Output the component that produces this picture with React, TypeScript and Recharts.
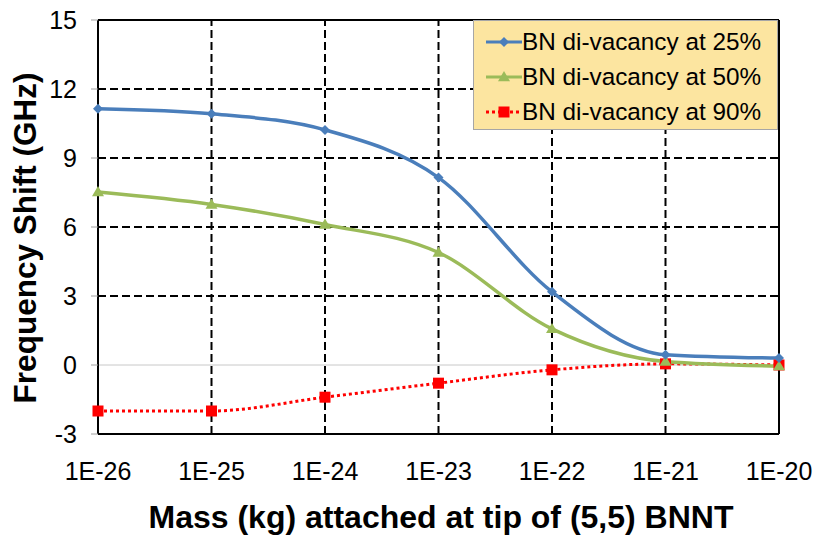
import React from "react";
import { LineChart, Line, XAxis, YAxis, ReferenceLine, Legend } from "recharts";

const masses = ["1E-26", "1E-25", "1E-24", "1E-23", "1E-22", "1E-21", "1E-20"];
const vac25 = [11.14, 10.92, 10.22, 8.15, 3.18, 0.45, 0.3];
const vac50 = [7.52, 6.98, 6.11, 4.89, 1.57, 0.15, -0.05];
const vac90 = [-2.0, -2.0, -1.4, -0.79, -0.21, 0.05, 0.0];
const yTicks = [-3, 0, 3, 6, 9, 12, 15];
const dashedY = [3, 6, 9, 12];

const seriesNames = ["BN di-vacancy at 25%", "BN di-vacancy at 50%", "BN di-vacancy at 90%"];
const BLUE = "#4A7EBB";
const GREEN = "#9BBB59";
const RED = "#FF0000";
const FONT = "'Liberation Sans', Arial, sans-serif";

const data = masses.map((m, i) => ({ mass: m, a: vac25[i], b: vac50[i], c: vac90[i] }));

const Diamond = (props: any) => {
  const { cx, cy, fill } = props;
  if (cx == null || cy == null) return null;
  const r = 5;
  return <path d={`M${cx},${cy - r}L${cx + r},${cy}L${cx},${cy + r}L${cx - r},${cy}Z`} fill={fill} />;
};
const Triangle = (props: any) => {
  const { cx, cy, fill } = props;
  if (cx == null || cy == null) return null;
  const r = 6;
  return <path d={`M${cx},${cy - r}L${cx + r},${cy + r * 0.7}L${cx - r},${cy + r * 0.7}Z`} fill={fill} />;
};
const Square = (props: any) => {
  const { cx, cy, fill } = props;
  if (cx == null || cy == null) return null;
  const s = 11;
  return <rect x={cx - s / 2} y={cy - s / 2} width={s} height={s} fill={fill} />;
};

const LegendBox = () => {
  const rows = [
    { name: seriesNames[0], color: BLUE, dash: undefined, marker: "diamond" },
    { name: seriesNames[1], color: GREEN, dash: undefined, marker: "triangle" },
    { name: seriesNames[2], color: RED, dash: "3 3", marker: "square" },
  ];
  return (
    <div
      style={{
        width: 305,
        height: 110,
        boxSizing: "border-box",
        background: "#FCE5A0",
        border: "1px solid #A6A6A6",
        paddingTop: 3,
        fontFamily: FONT,
      }}
    >
      {rows.map((r) => (
        <div key={r.name} style={{ display: "flex", alignItems: "center", height: 35 }}>
          <svg width={50} height={20} style={{ marginLeft: 10 }}>
            <line x1={2} y1={10} x2={38} y2={10} stroke={r.color} strokeWidth={3} strokeDasharray={r.dash} />
            {r.marker === "diamond" && <Diamond cx={20} cy={10} fill={r.color} />}
            {r.marker === "triangle" && <Triangle cx={20} cy={10} fill={r.color} />}
            {r.marker === "square" && <Square cx={20} cy={10} fill={r.color} />}
          </svg>
          <span style={{ fontSize: 24.3, color: "#000", marginLeft: -12, whiteSpace: "nowrap" }}>{r.name}</span>
        </div>
      ))}
    </div>
  );
};

export default function App() {
  return (
    <div style={{ position: "absolute", left: 0, top: 0, width: 817, height: 538, background: "#fff" }}>
      <LineChart
        width={817}
        height={538}
        data={data}
        margin={{ top: 20, right: 38, bottom: 0, left: 0 }}
        style={{ fontFamily: FONT }}
      >
        {dashedY.map((v) => (
          <ReferenceLine key={"y" + v} y={v} stroke="#000" strokeWidth={2} strokeDasharray="8 4" />
        ))}
        {masses.slice(1, masses.length - 1).map((m) => (
          <ReferenceLine key={"x" + m} x={m} stroke="#000" strokeWidth={2} strokeDasharray="8 4" />
        ))}
        <ReferenceLine y={0} stroke="#C8C8C8" strokeWidth={1} />
        <ReferenceLine y={15} stroke="#000" strokeWidth={2} />
        <ReferenceLine x={masses[masses.length - 1]} stroke="#000" strokeWidth={2} />
        <XAxis
          dataKey="mass"
          height={104}
          tickLine={false}
          axisLine={{ stroke: "#000", strokeWidth: 2 }}
          tick={{ fill: "#000", fontSize: 25, fontFamily: FONT }}
          tickMargin={22}
          interval={0}
          label={{
            content: () => (
              <text
                x={441}
                y={528}
                textAnchor="middle"
                fontSize={32}
                fontWeight="bold"
                fontFamily={FONT}
                fill="#000"
              >
                Mass (kg) attached at tip of (5,5) BNNT
              </text>
            ),
          }}
        />
        <YAxis
          width={98}
          domain={[-3, 15]}
          ticks={yTicks}
          interval={0}
          tickSize={7}
          tickLine={{ stroke: "#A0A0A0" }}
          axisLine={{ stroke: "#000", strokeWidth: 2 }}
          tick={{ fill: "#000", fontSize: 25, fontFamily: FONT }}
          tickMargin={14}
          label={{
            content: () => (
              <text
                x={25}
                y={238}
                transform="rotate(-90 25 238)"
                textAnchor="middle"
                dominantBaseline="central"
                fontSize={31.5}
                fontWeight="bold"
                fontFamily={FONT}
                fill="#000"
              >
                Frequency Shift (GHz)
              </text>
            ),
          }}
        />
        <Legend
          layout="horizontal"
          verticalAlign="middle"
          align="center"
          wrapperStyle={{ position: "absolute", top: 20, left: 473, width: 305, height: 110 }}
          content={() => <LegendBox />}
        />
        <Line
          type="monotone"
          dataKey="c"
          name={seriesNames[2]}
          stroke={RED}
          strokeWidth={3}
          strokeDasharray="3 3"
          dot={<Square fill={RED} />}
          activeDot={false}
          isAnimationActive={false}
        />
        <Line
          type="monotone"
          dataKey="b"
          name={seriesNames[1]}
          stroke={GREEN}
          strokeWidth={3.5}
          dot={<Triangle fill={GREEN} />}
          activeDot={false}
          isAnimationActive={false}
        />
        <Line
          type="monotone"
          dataKey="a"
          name={seriesNames[0]}
          stroke={BLUE}
          strokeWidth={3.5}
          dot={<Diamond fill={BLUE} />}
          activeDot={false}
          isAnimationActive={false}
        />
      </LineChart>
    </div>
  );
}
